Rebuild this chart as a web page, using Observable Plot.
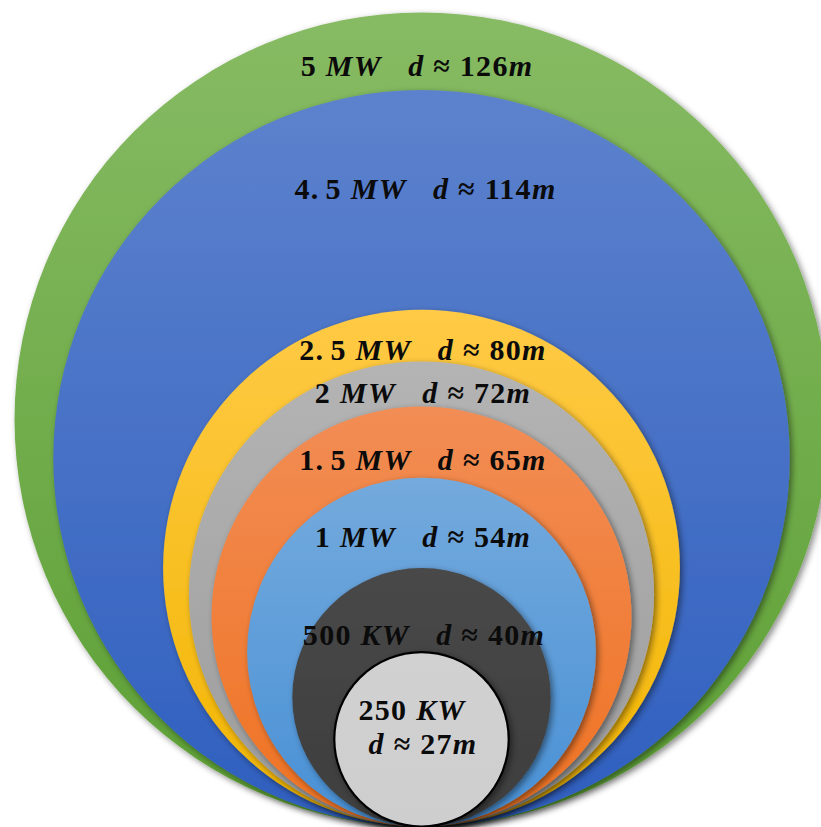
<!DOCTYPE html>
<html>
<head>
<meta charset="utf-8">
<script src="https://cdn.jsdelivr.net/npm/d3@7"></script>
<script src="https://cdn.jsdelivr.net/npm/@observablehq/plot@0.6"></script>
<style>
  html, body { margin: 0; padding: 0; background: #fff; }
  #chart svg { display: block; }
  #chart text { white-space: pre; letter-spacing: 1.3px; }
</style>
</head>
<body>
<div id="chart"></div>
<script>
// ---- data ----
const ratings = ["5 MW", "4.5 MW", "2.5 MW", "2 MW", "1.5 MW", "1 MW", "500 KW", "250 KW"];
const diameters = [126, 114, 80, 72, 65, 54, 40, 27]; // rotor diameter, m

// ---- styles / layout ----
const gradTop    = ["#87bb64", "#5d82cd", "#ffca45", "#b4b4b4", "#f28d55", "#74aadd", "#484848", "#d2d1d2"];
const gradBottom = ["#5c9f34", "#2f5fbf", "#f2b500", "#9c9c9c", "#ef7222", "#4890d5", "#3e3e3e", "#cfcecf"];
const PX = 6.46;      // pixels per metre
const CX = 421;       // common centre x, px
const BASE = 826;     // common tangent point y, px
const labelDepth = [63, 108.5, 50, 42, 63, 69, 77, 68]; // baseline below circle top, px
const labelShift = [-4.5, 4, 1.5, 1.5, 1.5, 1.5, 2.5, -9.5];
const secondLineGap = 34, secondLineShift = 1.5;

const circles = diameters.map((d, i) => ({i, diameter: d, rating: ratings[i]}));
const labels = [];
circles.forEach(c => {
  const top = c.diameter; // metres above base
  if (c.i === circles.length - 1) {
    labels.push({text: c.rating, y: top - labelDepth[c.i] / PX, x: labelShift[c.i] / PX});
    labels.push({text: `d ≈ ${c.diameter}m`, y: top - (labelDepth[c.i] + secondLineGap) / PX, x: secondLineShift / PX});
  } else {
    labels.push({text: `${c.rating}   d ≈ ${c.diameter}m`, y: top - labelDepth[c.i] / PX, x: labelShift[c.i] / PX});
  }
});

const W = 821, H = 827;
const chart = Plot.plot({
  width: W, height: H, margin: 0,
  style: {background: "transparent", overflow: "hidden"},
  x: {domain: [-CX / PX, (W - CX) / PX], range: [0, W], axis: null},
  y: {domain: [0, BASE / PX], range: [BASE, 0], axis: null},
  r: {type: "linear", domain: [0, 63], range: [0, 63 * PX]},
  marks: [
    Plot.dot(circles, {
      x: () => 0,
      y: d => d.diameter / 2,
      r: d => d.diameter / 2,
      fill: d => `url(#grad-${d.i})`,
      stroke: d => d.i === circles.length - 1 ? "#000000" : "none",
      strokeWidth: 2.2,
      sort: null
    }),
    Plot.text(labels, {
      x: "x", y: "y", text: "text",
      lineAnchor: "bottom",
      fontSize: 30,
      fontWeight: "bold",
      fontFamily: "'Liberation Serif', 'DejaVu Serif', serif",
      fill: "#0b0b0b"
    })
  ]
});

// gradients + soft shadow
const svg = d3.select(chart);
const defs = svg.insert("defs", ":first-child");
circles.forEach(c => {
  const g = defs.append("linearGradient").attr("id", `grad-${c.i}`)
    .attr("x1", 0).attr("y1", 0).attr("x2", 0).attr("y2", 1);
  g.append("stop").attr("offset", "0%").attr("stop-color", gradTop[c.i]);
  g.append("stop").attr("offset", "100%").attr("stop-color", gradBottom[c.i]);
});
const f = defs.append("filter").attr("id", "shadow")
  .attr("x", "-10%").attr("y", "-10%").attr("width", "125%").attr("height", "125%");
f.append("feDropShadow").attr("dx", 2.5).attr("dy", 2.5).attr("stdDeviation", 3)
  .attr("flood-color", "#000").attr("flood-opacity", 0.45);
svg.selectAll("circle").attr("filter", "url(#shadow)");

// math-style labels: letters italic, numbers upright, gap after decimal point
svg.selectAll("g[aria-label='text'] text").each(function () {
  const s = this.textContent;
  this.textContent = "";
  const parts = s.match(/[A-Za-z]+|\.(?=\d)|[^A-Za-z.]+|\./g) || [];
  let gap = false;
  for (const p of parts) {
    const t = document.createElementNS("http://www.w3.org/2000/svg", "tspan");
    if (/[A-Za-z]/.test(p)) t.setAttribute("font-style", "italic");
    if (gap) t.setAttribute("dx", "0.2em");
    gap = p === ".";
    t.textContent = p;
    this.appendChild(t);
  }
});

document.getElementById("chart").appendChild(chart);
</script>
</body>
</html>
